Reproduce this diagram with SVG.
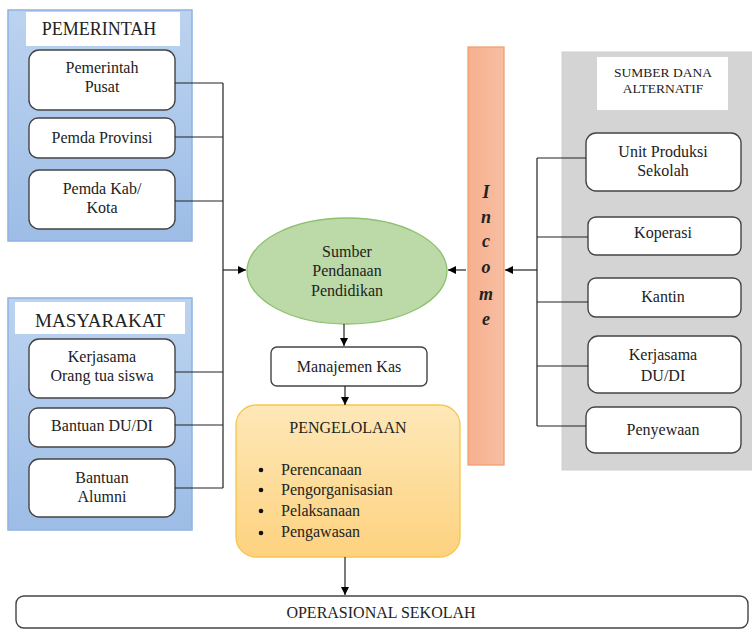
<svg xmlns="http://www.w3.org/2000/svg" width="752" height="629" viewBox="0 0 752 629" font-family="'Liberation Serif', serif">
<defs>
<linearGradient id="gBlue" x1="0" y1="0" x2="0" y2="1"><stop offset="0" stop-color="#bcd3f0"/><stop offset="1" stop-color="#9dbde6"/></linearGradient>
<linearGradient id="gYel" x1="0" y1="0" x2="0" y2="1"><stop offset="0" stop-color="#fde8b8"/><stop offset="1" stop-color="#fdd27f"/></linearGradient>
<linearGradient id="gInc" x1="0" y1="0" x2="1" y2="0"><stop offset="0" stop-color="#f6b08e"/><stop offset="1" stop-color="#f8bea2"/></linearGradient>
<marker id="arr" viewBox="0 0 10 10" refX="10" refY="5" markerWidth="8" markerHeight="8" orient="auto" markerUnits="userSpaceOnUse"><path d="M0,0 L10,5 L0,10 z" fill="#000"/></marker>
</defs>
<style>
text{font-family:'Liberation Serif',serif;fill:#222;text-anchor:middle}
.t{font-size:16px}
.h{font-size:18px}
.box{fill:#fff;stroke:#444;stroke-width:1.4}
.ln{fill:none;stroke:#222;stroke-width:1.2}
.inc{font-size:18px;font-weight:bold;font-style:italic}
.l{text-anchor:start}
</style>
<rect width="752" height="629" fill="#fff"/>

<g id="pemerintah">
<rect x="8" y="10" width="184" height="231" fill="url(#gBlue)" stroke="#8fb3e0" stroke-width="1.5"/>
<rect x="26" y="12" width="154" height="34" fill="#fff"/>
<text class="h" x="99" y="35">PEMERINTAH</text>
</g>
<g id="pemerintah-pusat"><rect class="box" x="29" y="50" width="146" height="60" rx="10"/><text class="t" x="102" y="73">Pemerintah</text><text class="t" x="102" y="91.5">Pusat</text></g>
<g id="pemda-provinsi"><rect class="box" x="29" y="118" width="146" height="40" rx="9"/><text class="t" x="102" y="143">Pemda Provinsi</text></g>
<g id="pemda-kab"><rect class="box" x="29" y="170" width="146" height="59" rx="10"/><text class="t" x="102" y="194">Pemda Kab/</text><text class="t" x="102" y="212.5">Kota</text></g>

<g id="masyarakat">
<rect x="8" y="298" width="184" height="232" fill="url(#gBlue)" stroke="#8fb3e0" stroke-width="1.5"/>
<rect x="15" y="302" width="170" height="32" fill="#fff"/>
<text class="h" x="100" y="327" style="font-size:19px">MASYARAKAT</text>
</g>
<g id="kerjasama-ortu"><rect class="box" x="29" y="339" width="146" height="59" rx="10"/><text class="t" x="102" y="362">Kerjasama</text><text class="t" x="102" y="380.5">Orang tua siswa</text></g>
<g id="bantuan-dudi"><rect class="box" x="29" y="408" width="146" height="39" rx="9"/><text class="t" x="102" y="431">Bantuan DU/DI</text></g>
<g id="bantuan-alumni"><rect class="box" x="29" y="459" width="146" height="58" rx="10"/><text class="t" x="102" y="483">Bantuan</text><text class="t" x="102" y="502">Alumni</text></g>

<g id="sumber-pendanaan">
<ellipse cx="347" cy="271" rx="100" ry="53" fill="#bcdaa8" stroke="#8cc06e" stroke-width="1.3"/>
<text class="t" x="347" y="257">Sumber</text><text class="t" x="347" y="276">Pendanaan</text><text class="t" x="347" y="296">Pendidikan</text>
</g>
<g id="manajemen-kas"><rect class="box" x="271" y="347" width="156" height="39" rx="6"/><text class="t" x="349" y="372">Manajemen Kas</text></g>
<g id="pengelolaan">
<rect x="236" y="405" width="224" height="152" rx="20" fill="url(#gYel)" stroke="#f6c64a" stroke-width="1.3"/>
<text class="t" x="348" y="433">PENGELOLAAN</text>
<circle cx="261" cy="470" r="2.3" fill="#111"/><text class="t l" x="281" y="475">Perencanaan</text>
<circle cx="261" cy="490" r="2.3" fill="#111"/><text class="t l" x="281" y="495">Pengorganisasian</text>
<circle cx="261" cy="511" r="2.3" fill="#111"/><text class="t l" x="281" y="516">Pelaksanaan</text>
<circle cx="261" cy="533" r="2.3" fill="#111"/><text class="t l" x="281" y="537">Pengawasan</text>
</g>
<g id="operasional"><rect class="box" x="16" y="596" width="732" height="32" rx="8"/><text class="t" x="381" y="618">OPERASIONAL SEKOLAH</text></g>

<g id="income">
<rect x="468" y="47" width="36" height="418" fill="url(#gInc)" stroke="#f2a070" stroke-width="1.3"/>
<text class="inc" x="486" y="198">I</text>
<text class="inc" x="486" y="223">n</text>
<text class="inc" x="486" y="247">c</text>
<text class="inc" x="486" y="273">o</text>
<text class="inc" x="486" y="300">m</text>
<text class="inc" x="486" y="325">e</text>
</g>

<g id="sumber-dana-alternatif">
<rect x="562" y="52" width="192" height="418" fill="#d4d4d4" stroke="#cfcfcf"/>
<rect x="597" y="57" width="131" height="53" fill="#fff"/>
<text x="663" y="77" style="font-size:13.5px">SUMBER DANA</text>
<text x="663" y="93" style="font-size:13.5px">ALTERNATIF</text>
</g>
<g id="unit-produksi"><rect class="box" x="586" y="133" width="155" height="58" rx="10"/><text class="t" x="663" y="157">Unit Produksi</text><text class="t" x="663" y="175.5">Sekolah</text></g>
<g id="koperasi"><rect class="box" x="588" y="217" width="153" height="38" rx="8"/><text class="t" x="663" y="238">Koperasi</text></g>
<g id="kantin"><rect class="box" x="588" y="278" width="153" height="39" rx="8"/><text class="t" x="663" y="302">Kantin</text></g>
<g id="kerjasama-dudi"><rect class="box" x="588" y="336" width="153" height="57" rx="10"/><text class="t" x="663" y="360">Kerjasama</text><text class="t" x="663" y="381">DU/DI</text></g>
<g id="penyewaan"><rect class="box" x="586" y="407" width="155" height="46" rx="9"/><text class="t" x="663" y="435">Penyewaan</text></g>

<g id="connectors">
<path class="ln" d="M175,83 H223 M175,137 H223 M175,201 H223 M175,372 H223 M175,425 H223 M175,488 H223 M223,83 V488"/>
<path class="ln" d="M223,270 H246" marker-end="url(#arr)"/>
<path class="ln" d="M466,270 H448" marker-end="url(#arr)"/>
<path class="ln" d="M586,158 H537 M588,237 H537 M588,302 H537 M588,366 H537 M586,426 H537 M537,158 V426"/>
<path class="ln" d="M537,270 H505" marker-end="url(#arr)"/>
<path class="ln" d="M344,324 V346" marker-end="url(#arr)"/>
<path class="ln" d="M345,386 V405" marker-end="url(#arr)"/>
<path class="ln" d="M345,557 V595" marker-end="url(#arr)"/>
</g>
</svg>
